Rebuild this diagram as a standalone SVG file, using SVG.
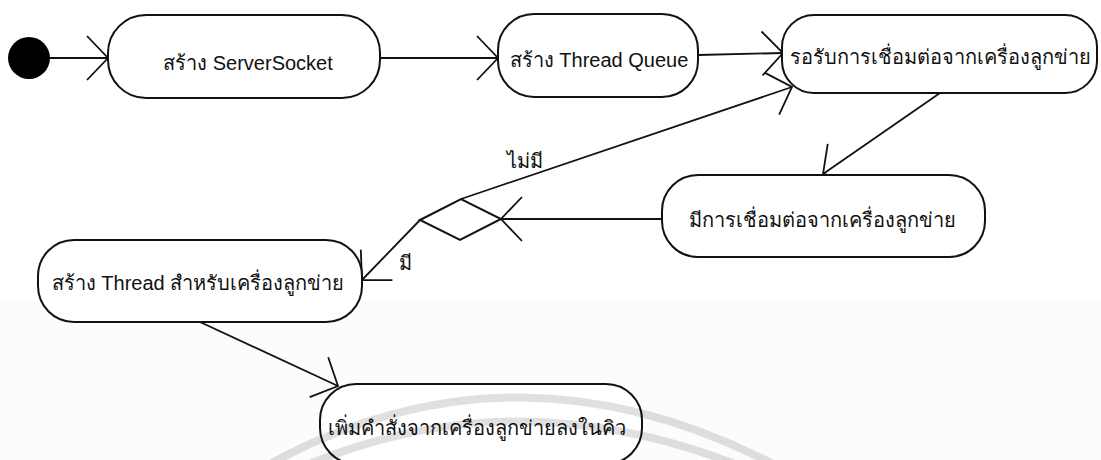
<svg xmlns="http://www.w3.org/2000/svg" width="1101" height="460" viewBox="0 0 1101 460">
  <style>
    .node { fill: #ffffff; stroke: #111111; stroke-width: 2; }
    .lbl { font-family: "Liberation Sans", "Noto Sans", "DejaVu Sans", sans-serif; font-size: 20px; fill: #111111; text-anchor: middle; }
    .edge { fill: none; stroke: #111111; stroke-width: 1.8; }
    .wm { fill: none; stroke: #000000; stroke-opacity: 0.12; stroke-width: 8; }
  </style>
  <defs>
    <marker id="open" markerUnits="userSpaceOnUse" viewBox="-26 -26 30 52" refX="0" refY="0" markerWidth="30" markerHeight="52" orient="auto" overflow="visible">
      <path d="M -21 -22 L 0 0 L -21 22" fill="none" stroke="#111111" stroke-width="1.8"/>
    </marker>
  </defs>
  <rect x="0" y="0" width="1101" height="460" fill="#ffffff"/>
  <rect x="0" y="302" width="1101" height="158" fill="#fcfcfc"/>
  <g id="connectors">
    <line class="edge" x1="50" y1="58" x2="108" y2="58" marker-end="url(#open)"/>
    <line class="edge" x1="380" y1="58" x2="498" y2="58" marker-end="url(#open)"/>
    <line class="edge" x1="698" y1="55" x2="783" y2="53" marker-end="url(#open)"/>
    <line class="edge" x1="940" y1="93" x2="823" y2="174" marker-end="url(#open)"/>
    <line class="edge" x1="662" y1="219" x2="501" y2="219" marker-end="url(#open)"/>
    <line class="edge" x1="461" y1="199" x2="792" y2="87" marker-end="url(#open)"/>
    <line class="edge" x1="420" y1="220" x2="362" y2="280" marker-end="url(#open)"/>
    <line class="edge" x1="200" y1="322" x2="338" y2="386" marker-end="url(#open)"/>
    <text class="lbl" x="525" y="168">ไม่มี</text>
    <text class="lbl" x="405" y="270">มี</text>
  </g>
  <g id="initial">
    <circle cx="29" cy="58" r="21" fill="#000000"/>
  </g>
  <g id="n1">
    <rect class="node" x="108" y="15" width="272" height="83" rx="38" ry="38"/>
    <text class="lbl" x="248" y="70">สร้าง ServerSocket</text>
  </g>
  <g id="n2">
    <rect class="node" x="498" y="14" width="200" height="83" rx="36" ry="36"/>
    <text class="lbl" x="599" y="67">สร้าง Thread Queue</text>
  </g>
  <g id="n3">
    <rect class="node" x="782" y="15" width="315" height="78" rx="32" ry="32"/>
    <text class="lbl" x="940" y="64">รอรับการเชื่อมต่อจากเครื่องลูกข่าย</text>
  </g>
  <g id="n4">
    <rect class="node" x="662" y="175" width="323" height="82" rx="36" ry="36"/>
    <text class="lbl" x="822" y="227">มีการเชื่อมต่อจากเครื่องลูกข่าย</text>
  </g>
  <g id="decision">
    <polygon class="node" points="420,220 461,199 501,219 460,240"/>
  </g>
  <g id="n5">
    <rect class="node" x="38" y="240" width="324" height="82" rx="36" ry="36"/>
    <text class="lbl" x="198" y="290">สร้าง Thread สำหรับเครื่องลูกข่าย</text>
  </g>
  <g id="n6">
    <rect class="node" x="320" y="384" width="322" height="80" rx="36" ry="36"/>
    <text class="lbl" x="477" y="435">เพิ่มคำสั่งจากเครื่องลูกข่ายลงในคิว</text>
  </g>
  <g id="watermark">
    <path class="wm" d="M 268 465 Q 515 330 775 465"/>
    <path class="wm" d="M 300 468 Q 515 375 745 468"/>
  </g>
</svg>
